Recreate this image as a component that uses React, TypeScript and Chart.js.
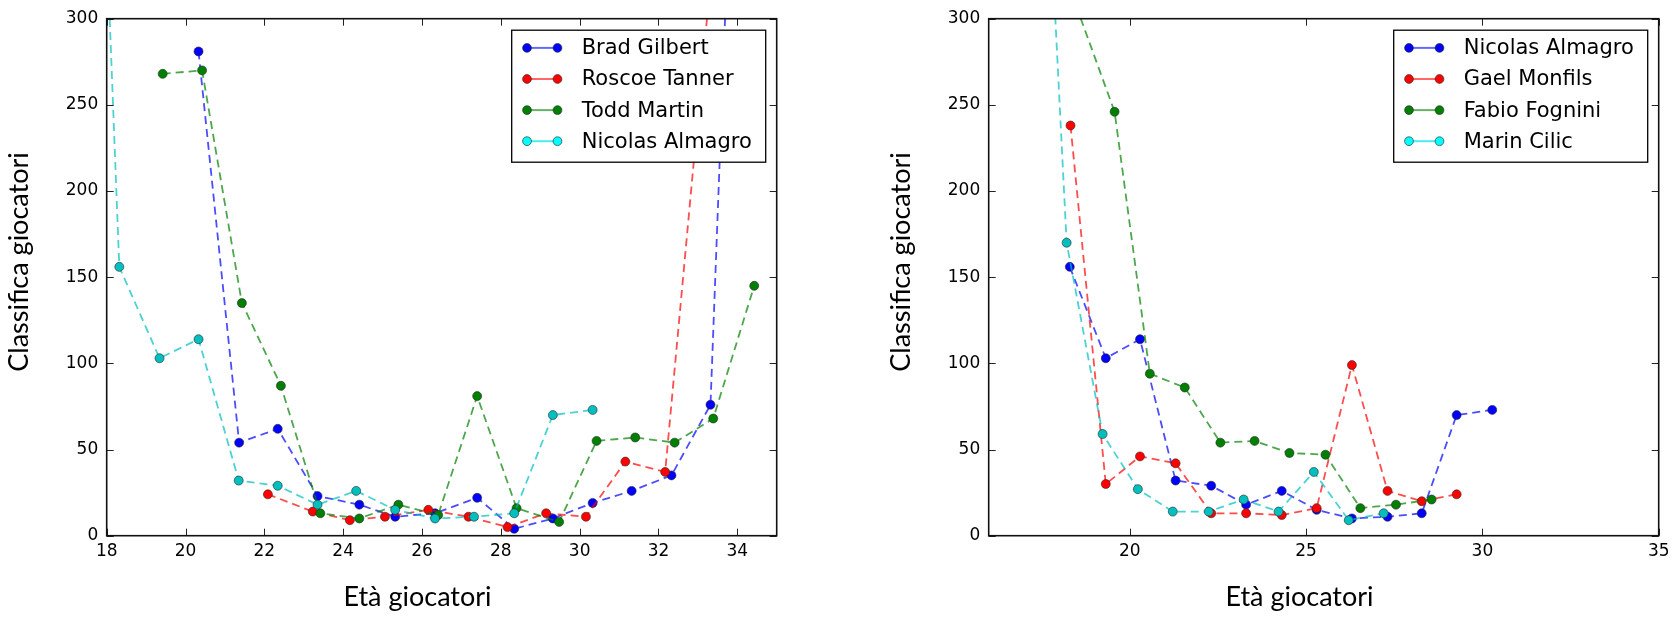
import React, { useEffect, useRef } from "react";
import { Chart, registerables } from "chart.js";

Chart.register(...registerables);

// ---------- Left panel data ----------
const gilbertAge = [20.33, 21.36, 22.34, 23.35, 24.41, 25.32, 26.33, 27.4, 28.34, 29.32, 30.33, 31.32, 32.33, 33.32, 34.3];
const gilbertRank = [281, 54, 62, 23, 18, 11, 13, 22, 4, 10, 19, 26, 35, 76, 670];

const tannerAge = [22.09, 23.23, 24.17, 25.06, 26.16, 27.18, 28.17, 29.15, 30.16, 31.16, 32.17, 34.17];
const tannerRank = [24, 14, 9, 11, 15, 11, 5, 13, 11, 43, 37, 533];

const martinAge = [19.42, 20.42, 21.43, 22.42, 23.42, 24.41, 25.4, 26.41, 27.4, 28.4, 29.48, 30.43, 31.41, 32.41, 33.39, 34.43];
const martinRank = [268, 270, 135, 87, 13, 10, 18, 12, 81, 16, 8, 55, 57, 54, 68, 145];

const almagroAgeL = [18.0, 18.32, 19.34, 20.33, 21.35, 22.34, 23.35, 24.33, 25.32, 26.33, 27.32, 28.34, 29.32, 30.33];
const almagroRankL = [345, 156, 103, 114, 32, 29, 18, 26, 15, 10, 11, 13, 70, 73];

// ---------- Right panel data ----------
const almagroAgeR = [18.3, 19.32, 20.29, 21.3, 22.31, 23.3, 24.31, 25.3, 26.3, 27.31, 28.28, 29.27, 30.28];
const almagroRankR = [156, 103, 114, 32, 29, 18, 26, 15, 10, 11, 13, 70, 73];

const monfilsAge = [18.32, 19.32, 20.29, 21.3, 22.31, 23.3, 24.31, 25.3, 26.3, 27.31, 28.28, 29.27];
const monfilsRank = [238, 30, 46, 42, 13, 13, 12, 16, 99, 26, 20, 24];

const fogniniAge = [17.6, 19.57, 20.57, 21.56, 22.57, 23.54, 24.53, 25.55, 26.54, 27.55, 28.56];
const fogniniRank = [357, 246, 94, 86, 54, 55, 48, 47, 16, 18, 21];

const cilicAge = [17.2, 18.21, 19.23, 20.23, 21.22, 22.24, 23.23, 24.22, 25.22, 26.21, 27.2];
const cilicRank = [580, 170, 59, 27, 14, 14, 21, 14, 37, 9, 13];

// ---------- Axes ----------
const leftXTicks = [18, 20, 22, 24, 26, 28, 30, 32, 34];
const rightXTicks = [20, 25, 30, 35];
const yTicks = [0, 50, 100, 150, 200, 250, 300];
const xTitle = "Età giocatori";
const yTitle = "Classifica giocatori";

const BLUE = { point: "#0000ff", line: "rgba(0,0,255,0.7)", legendPoint: "#0000ff", legendLine: "rgba(0,0,255,0.6)" };
const RED = { point: "#ff0000", line: "rgba(255,0,0,0.7)", legendPoint: "#ff0000", legendLine: "rgba(255,0,0,0.6)" };
const GREEN = { point: "#008000", line: "rgba(0,128,0,0.7)", legendPoint: "#008000", legendLine: "rgba(0,128,0,0.6)" };
const CYAN = { point: "#00bfbf", line: "rgba(0,191,191,0.7)", legendPoint: "#00ffff", legendLine: "rgba(0,230,230,0.7)" };

type Series = { name: string; age: number[]; rank: number[]; c: typeof BLUE };

const leftSeries: Series[] = [
  { name: "Brad Gilbert", age: gilbertAge, rank: gilbertRank, c: BLUE },
  { name: "Roscoe Tanner", age: tannerAge, rank: tannerRank, c: RED },
  { name: "Todd Martin", age: martinAge, rank: martinRank, c: GREEN },
  { name: "Nicolas Almagro", age: almagroAgeL, rank: almagroRankL, c: CYAN },
];

const rightSeries: Series[] = [
  { name: "Nicolas Almagro", age: almagroAgeR, rank: almagroRankR, c: BLUE },
  { name: "Gael Monfils", age: monfilsAge, rank: monfilsRank, c: RED },
  { name: "Fabio Fognini", age: fogniniAge, rank: fogniniRank, c: GREEN },
  { name: "Marin Cilic", age: cilicAge, rank: cilicRank, c: CYAN },
];

function fitFont(ctx: CanvasRenderingContext2D, text: string, target: number): string {
  ctx.font = "24px Lato";
  const w = ctx.measureText(text).width || target;
  const size = Math.max(18, Math.min(32, (24 * target) / w));
  return `${size.toFixed(1)}px Lato`;
}

const decorPlugin = {
  id: "mplDecor",
  afterDatasetsDraw(chart: any) {
    const { ctx, chartArea: a, scales } = chart;
    const xs = scales.x;
    const ys = scales.y;
    ctx.save();
    ctx.strokeStyle = "#222";
    ctx.lineWidth = 1;
    const L = 7;
    const seg = (x1: number, y1: number, x2: number, y2: number) => {
      ctx.beginPath();
      ctx.moveTo(x1, y1);
      ctx.lineTo(x2, y2);
      ctx.stroke();
    };
    for (const t of xs.ticks) {
      const px = Math.round(xs.getPixelForValue(t.value)) + 0.5;
      seg(px, a.bottom, px, a.bottom - L);
      seg(px, a.top, px, a.top + L);
    }
    for (const t of ys.ticks) {
      const py = Math.round(ys.getPixelForValue(t.value)) + 0.5;
      seg(a.left, py, a.left + L, py);
      seg(a.right, py, a.right - L, py);
    }
    ctx.lineWidth = 1.6;
    ctx.strokeStyle = "#111";
    ctx.strokeRect(a.left, a.top, a.right - a.left, a.bottom - a.top);
    ctx.restore();
  },
  afterDraw(chart: any, _a: any, opts: any) {
    const { ctx, chartArea: a } = chart;
    const series: Series[] = opts.series;
    ctx.save();
    // legend
    const bw = 254;
    const bh = 132;
    const bx = a.right - 11 - bw;
    const by = a.top + 11.5;
    ctx.fillStyle = "#fff";
    ctx.fillRect(bx, by, bw, bh);
    ctx.strokeStyle = "#000";
    ctx.lineWidth = 1.3;
    ctx.strokeRect(bx, by, bw, bh);
    series.forEach((s, i) => {
      const cy = by + 17.7 + i * 31.1;
      const x1 = bx + 15.3;
      const x2 = bx + 45.8;
      ctx.strokeStyle = s.c.legendLine;
      ctx.lineWidth = 2;
      ctx.beginPath();
      ctx.moveTo(x1, cy);
      ctx.lineTo(x2, cy);
      ctx.stroke();
      for (const mx of [x1, x2]) {
        ctx.beginPath();
        ctx.arc(mx, cy, 4.4, 0, Math.PI * 2);
        ctx.fillStyle = s.c.legendPoint;
        ctx.fill();
        ctx.lineWidth = 0.8;
        ctx.strokeStyle = "rgba(40,40,40,0.8)";
        ctx.stroke();
      }
      ctx.fillStyle = "#000";
      ctx.font = '21px "DejaVu Sans"';
      ctx.textAlign = "left";
      ctx.textBaseline = "middle";
      ctx.fillText(s.name, bx + 70, cy + 1);
    });
    // axis titles (same size for both, matplotlib style)
    ctx.fillStyle = "#000";
    ctx.textAlign = "center";
    ctx.textBaseline = "alphabetic";
    const titleFont = fitFont(ctx, opts.xTitle, 148);
    ctx.font = titleFont;
    ctx.fillText(opts.xTitle, a.left + 310.8, 606);
    ctx.translate(a.left - 78.4, 262);
    ctx.rotate(-Math.PI / 2);
    ctx.fillText(opts.yTitle, 0, 0);
    ctx.restore();
  },
};

function makeConfig(series: Series[], xMin: number, xMax: number, xTicks: number[], yAxisWidth: number, padRight: number): any {
  const n = series.length;
  return {
    type: "scatter",
    data: {
      datasets: series.map((s, i) => ({
        label: s.name,
        data: s.age.map((a, j) => ({ x: a, y: s.rank[j] })),
        showLine: true,
        borderColor: s.c.line,
        borderWidth: 1.8,
        borderDash: [8, 5],
        backgroundColor: s.c.point,
        pointBackgroundColor: s.c.point,
        pointBorderColor: "rgba(40,40,40,0.75)",
        pointBorderWidth: 0.8,
        pointRadius: 4.5,
        pointHoverRadius: 4.5,
        tension: 0,
        order: n - i,
      })),
    },
    options: {
      responsive: false,
      animation: false,
      devicePixelRatio: 1,
      layout: { padding: { left: 0, right: padRight, top: 15.7, bottom: 0 } },
      plugins: {
        legend: { display: false },
        tooltip: { enabled: false },
        mplDecor: { series, xTitle, yTitle },
      },
      scales: {
        x: {
          type: "linear",
          min: xMin,
          max: xMax,
          grid: { display: false, drawTicks: false },
          border: { display: false },
          ticks: {
            font: { family: "DejaVu Sans", size: 17 },
            color: "#000",
            padding: 6,
            maxRotation: 0,
            autoSkip: false,
            callback: (v: number) => String(v),
          },
          afterBuildTicks: (s: any) => {
            s.ticks = xTicks.map((v) => ({ value: v }));
          },
          afterFit: (s: any) => {
            s.height = 86.3;
          },
        },
        y: {
          type: "linear",
          min: 0,
          max: 300,
          grid: { display: false, drawTicks: false },
          border: { display: false },
          ticks: {
            font: { family: "DejaVu Sans", size: 17 },
            color: "#000",
            padding: 8.5,
            autoSkip: false,
            callback: (v: number) => String(v),
          },
          afterBuildTicks: (s: any) => {
            s.ticks = yTicks.map((v) => ({ value: v }));
          },
          afterFit: (s: any) => {
            s.width = yAxisWidth;
          },
        },
      },
    },
    plugins: [decorPlugin],
  };
}

function Panel({ left, build }: { left: number; build: () => any }) {
  const ref = useRef<HTMLCanvasElement>(null);
  useEffect(() => {
    const chart = new Chart(ref.current as HTMLCanvasElement, build());
    return () => chart.destroy();
  }, []);
  return (
    <div style={{ position: "absolute", left, top: 0, width: 838, height: 622 }}>
      <canvas ref={ref} width={838} height={622} style={{ display: "block", width: 838, height: 622 }} />
    </div>
  );
}

export default function App() {
  return (
    <div style={{ position: "absolute", left: 0, top: 0, width: 1676, height: 622, background: "#fff" }}>
      <Panel left={0} build={() => makeConfig(leftSeries, 18, 35, leftXTicks, 106.7, 61.3)} />
      <Panel left={838} build={() => makeConfig(rightSeries, 16, 35, rightXTicks, 150.7, 17.3)} />
    </div>
  );
}
